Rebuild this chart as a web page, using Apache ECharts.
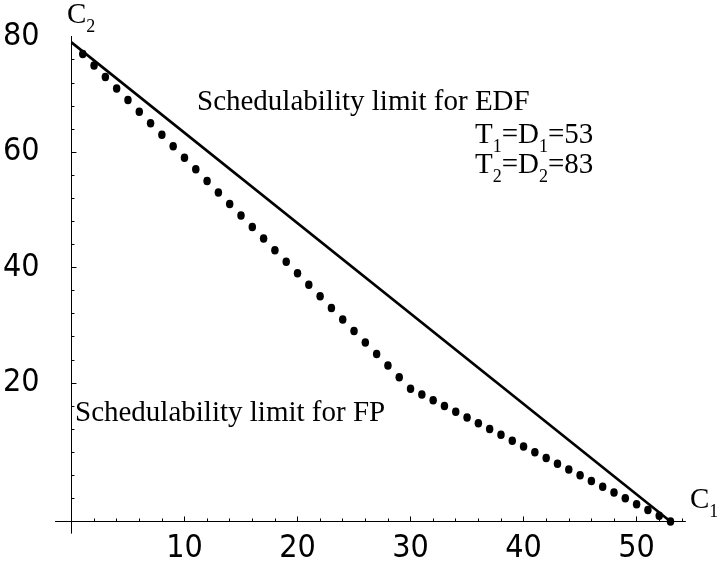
<!DOCTYPE html>
<html><head><meta charset="utf-8">
<script src="https://cdn.jsdelivr.net/npm/echarts@6/dist/echarts.min.js"></script>
<style>html,body{margin:0;padding:0;background:#fff}#c{width:717px;height:565px}</style>
</head><body><div id="c"></div>
<script>
// FP schedulability limit (dotted), C1 -> C2
const fpC1 = [1,2,3,4,5,6,7,8,9,10,11,12,13,14,15,16,17,18,19,20,21,22,23,24,25,26,27,28,29,30,31,32,33,34,35,36,37,38,39,40,41,42,43,44,45,46,47,48,49,50,51,52,53];
const fpC2 = [81,79,77,75,73,71,69,67,65,63,61,59,57,55,53,51,49,47,45,43,41,39,37,35,33,31,29,27,25,23,22,21,20,19,18,17,16,15,14,13,12,11,10,9,8,7,6,5,4,3,2,1,0];
// EDF schedulability limit (solid line)
const edfC1 = [0, 53];
const edfC2 = [83, 0];
// ticks
const xLabelValues = [10,20,30,40,50];
const xMinorTicks = [2,4,6,8,12,14,16,18,22,24,26,28,32,34,36,38,42,44,46,48,52,54];
const yLabelValues = [24,44,64,84];
const yLabelTexts = ['20','40','60','80'];
const yMajorTicks = [24,44,64];
const yMinorTicks = [4,8,12,16,20,28,32,36,40,48,52,56,60,68,72,76,80];

const tickFont = "'Liberation Sans Narrow','Arial Narrow','DejaVu Sans Condensed',sans-serif";
const serif = "'Liberation Serif','Times New Roman',serif";
const axisLineStyle = {color:'#000', width:1};

const chart = echarts.init(document.getElementById('c'), null, {renderer:'canvas'});
const xCommon = {type:'value', min:-1.4, max:54.3, splitLine:{show:false}};
const yCommon = {type:'value', min:-2, max:84, splitLine:{show:false}};
const subRich = {fontSize:18, fontFamily:serif, height:6, lineHeight:6, verticalAlign:'bottom', color:'#000'};
const mainRich = {fontSize:29, fontFamily:serif, lineHeight:30, color:'#000'};
chart.setOption({
  animation:false,
  backgroundColor:'#fff',
  grid:{left:44.6, right:31.8, top:36.6, bottom:24.9, containLabel:false},
  xAxis:[
    Object.assign({}, xCommon, {
      position:'bottom',
      axisLine:{show:true, onZero:true, lineStyle:axisLineStyle},
      axisTick:{show:true, inside:true, length:3, customValues:xMinorTicks, lineStyle:axisLineStyle},
      axisLabel:{show:true, customValues:xLabelValues, fontSize:32, fontFamily:tickFont, color:'#000', margin:0}
    }),
    Object.assign({}, xCommon, {
      position:'bottom',
      axisLine:{show:true, onZero:true, lineStyle:axisLineStyle},
      axisTick:{show:true, inside:true, length:5, customValues:xLabelValues, lineStyle:axisLineStyle},
      axisLabel:{show:false}
    })
  ],
  yAxis:[
    Object.assign({}, yCommon, {
      position:'left',
      axisLine:{show:true, onZero:true, lineStyle:axisLineStyle},
      axisTick:{show:true, inside:true, length:3, customValues:yMinorTicks, lineStyle:axisLineStyle},
      axisLabel:{show:true, customValues:yLabelValues, fontSize:32, fontFamily:tickFont, color:'#000', margin:16,
        formatter:function(v){ const i = yLabelValues.indexOf(v); return i >= 0 ? yLabelTexts[i] : ''; }}
    }),
    Object.assign({}, yCommon, {
      position:'left',
      axisLine:{show:true, onZero:true, lineStyle:axisLineStyle},
      axisTick:{show:true, inside:true, length:5, customValues:yMajorTicks, lineStyle:axisLineStyle},
      axisLabel:{show:false}
    })
  ],
  series:[
    {type:'line', xAxisIndex:0, yAxisIndex:0, data:edfC1.map((x,i)=>[x, edfC2[i]]),
     symbol:'none', lineStyle:{color:'#000', width:2.6}, z:3},
    {type:'scatter', xAxisIndex:0, yAxisIndex:0, data:fpC1.map((x,i)=>[x, fpC2[i]]),
     symbol:'circle', symbolSize:[7.5,8.5], itemStyle:{color:'#000', opacity:1}, z:4}
  ],
  graphic:[
    {type:'text', x:197, y:102.2, style:{text:'Schedulability limit for EDF', font:'29px ' + serif, fill:'#000', verticalAlign:'middle', align:'left'}},
    {type:'text', x:75, y:413.2, style:{text:'Schedulability limit for FP', font:'29px ' + serif, fill:'#000', verticalAlign:'middle', align:'left'}},
    {type:'text', x:475, y:120.2, style:{
      text:'{m|T}{s|1}{m|=D}{s|1}{m|=53}\n{m|T}{s|2}{m|=D}{s|2}{m|=83}',
      verticalAlign:'top', align:'left', rich:{m:mainRich, s:subRich}}},
    {type:'text', x:67, y:0.2, style:{
      text:'{m|C}{s|2}', verticalAlign:'top', align:'left', rich:{m:mainRich, s:subRich}}},
    {type:'text', x:690, y:485.2, style:{
      text:'{m|C}{s|1}', verticalAlign:'top', align:'left', rich:{m:mainRich, s:subRich}}}
  ]
});
</script>
</body></html>
